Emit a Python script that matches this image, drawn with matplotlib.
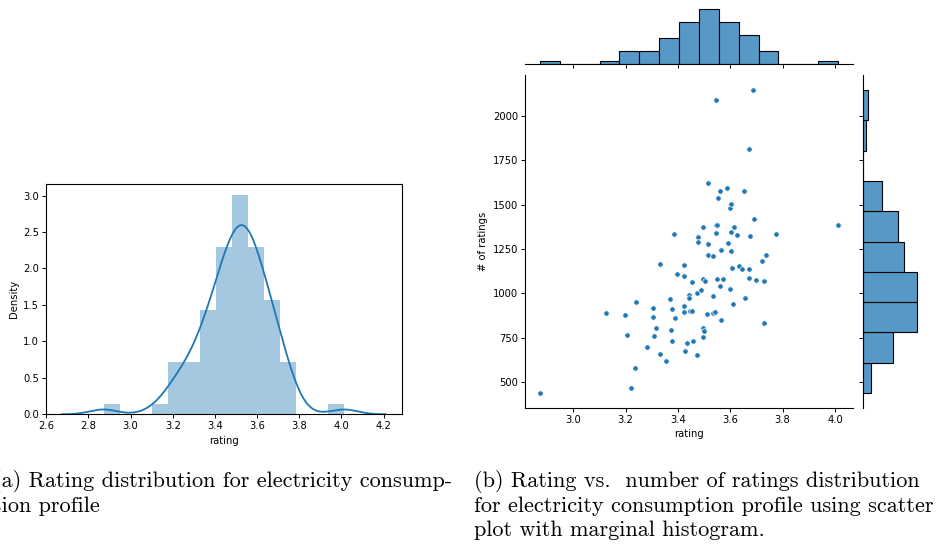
import numpy as np
import matplotlib
matplotlib.use("Agg")
import matplotlib.pyplot as plt

# Electricity consumption profile: rating and number of ratings per item
ratings = [
    2.872, 3.124, 3.199, 3.204, 3.239, 3.234, 3.222, 3.281, 3.303, 3.305,
    3.316, 3.308, 3.332, 3.332, 3.354, 3.368, 3.373, 3.377, 3.376, 3.387,
    3.385, 3.395, 3.422, 3.422, 3.423, 3.424, 3.427, 3.434, 3.441, 3.442,
    3.444, 3.452, 3.454, 3.458, 3.473, 3.473, 3.477, 3.478, 3.489, 3.495,
    3.496, 3.497, 3.499, 3.495, 3.504, 3.510, 3.514, 3.513, 3.516, 3.532,
    3.535, 3.533, 3.542, 3.546, 3.546, 3.546, 3.549, 3.553, 3.548, 3.561,
    3.562, 3.565, 3.566, 3.571, 3.589, 3.590, 3.599, 3.600, 3.604, 3.604,
    3.603, 3.606, 3.609, 3.615, 3.624, 3.634, 3.644, 3.651, 3.658, 3.670,
    3.672, 3.673, 3.676, 3.686, 3.690, 3.700, 3.723, 3.728, 3.730, 3.737,
    3.775, 4.012,
]
num_ratings = [
    438, 891, 876, 762, 953, 577, 464, 699, 918, 867,
    805, 758, 660, 1166, 618, 970, 792, 914, 731, 861,
    1336, 1110, 929, 895, 1097, 1161, 673, 722, 991, 972,
    901, 901, 1066, 731, 652, 1002, 1319, 1290, 1019, 1377,
    1081, 803, 786, 752, 1072, 884, 1277, 1219, 1620, 986,
    1213, 890, 893, 2090, 1388, 1341, 1080, 1539, 1385, 1040,
    1580, 850, 1247, 1080, 1592, 1283, 1484, 1025, 1503, 1345,
    1241, 1144, 937, 1373, 1328, 1157, 1140, 1575, 974, 1816,
    1136, 1089, 1326, 2147, 1422, 1076, 1181, 1070, 835, 1215,
    1336, 1383,
]

caption_a = ["(a) Rating distribution for electricity consump-",
             "tion profile"]
caption_b = ["(b) Rating vs.  number of ratings distribution",
             "for electricity consumption profile using scatter",
             "plot with marginal histogram."]

blue = "#1f77b4"
n_bins_rating = 15
n_bins_count = 10

plt.rcParams.update({
    "font.family": ["DejaVu Sans"],
    "font.size": 7.2,
    "axes.linewidth": 0.8,
    "xtick.major.size": 2.6,
    "ytick.major.size": 2.6,
    "xtick.major.width": 0.7,
    "ytick.major.width": 0.7,
    "xtick.major.pad": 2.5,
    "ytick.major.pad": 2.5,
    "axes.labelpad": 3.0,
})

W, H = 940, 545
fig = plt.figure(figsize=(W / 100, H / 100), dpi=100)


def box(x0, y0, x1, y1):
    """Axes rectangle from pixel edges (origin at top-left)."""
    return [x0 / W, 1 - y1 / H, (x1 - x0) / W, (y1 - y0) / H]


# ---- (a) histogram with kernel density estimate ----
ax_a = fig.add_axes(box(46, 184.3, 401.5, 414.3))
x = np.asarray(ratings, dtype=float)
ax_a.hist(x, bins=n_bins_rating, density=True, color=blue, alpha=0.4)
bw = x.std(ddof=1) * len(x) ** (-1 / 5)
grid = np.linspace(x.min() - 3 * bw, x.max() + 3 * bw, 200)
dens = np.exp(-0.5 * ((grid[:, None] - x[None, :]) / bw) ** 2).sum(axis=1)
dens /= len(x) * bw * np.sqrt(2 * np.pi)
ax_a.plot(grid, dens, color=blue, lw=1.3)
ax_a.set_xticks(np.arange(2.6, 4.21, 0.2))
ax_a.set_xlabel("rating")
ax_a.set_ylabel("Density")

# ---- (b) scatter with marginal histograms ----
ax_j = fig.add_axes(box(525, 75, 853, 408))
ax_mx = fig.add_axes(box(525, 6.6, 853, 64), sharex=ax_j)
ax_my = fig.add_axes(box(863, 75, 920, 408), sharey=ax_j)

ax_j.scatter(ratings, num_ratings, s=15, color=blue,
             edgecolor="white", linewidth=0.5, zorder=3)
ax_j.set_xlabel("rating")
ax_j.set_ylabel("# of ratings")
ax_j.set_xticks(np.arange(3.0, 4.01, 0.2))
ax_j.set_yticks(np.arange(500, 2001, 250))
for s in ("top", "right"):
    ax_j.spines[s].set_visible(False)

bar_face = (*matplotlib.colors.to_rgb(blue), 0.75)
ax_mx.hist(ratings, bins=n_bins_rating, facecolor=bar_face,
           edgecolor="black", linewidth=0.8)
ax_my.hist(num_ratings, bins=n_bins_count, orientation="horizontal",
           facecolor=bar_face, edgecolor="black", linewidth=0.8)

ax_mx.tick_params(labelbottom=False, left=False, labelleft=False)
for s in ("top", "right", "left"):
    ax_mx.spines[s].set_visible(False)
ax_my.tick_params(labelleft=False, bottom=False, labelbottom=False)
for s in ("top", "right", "bottom"):
    ax_my.spines[s].set_visible(False)

# ---- captions ----
cap_font = dict(family=["cmr10", "DejaVu Serif"], fontsize=16)
line_gap = 24.5
for i, line in enumerate(caption_a):
    fig.text(-7 / W, 1 - (487 + i * line_gap) / H, line, ha="left",
             va="baseline", **cap_font)
for i, line in enumerate(caption_b):
    fig.text(474 / W, 1 - (487 + i * line_gap) / H, line, ha="left",
             va="baseline", **cap_font)

fig.savefig("out.png", dpi=100)
